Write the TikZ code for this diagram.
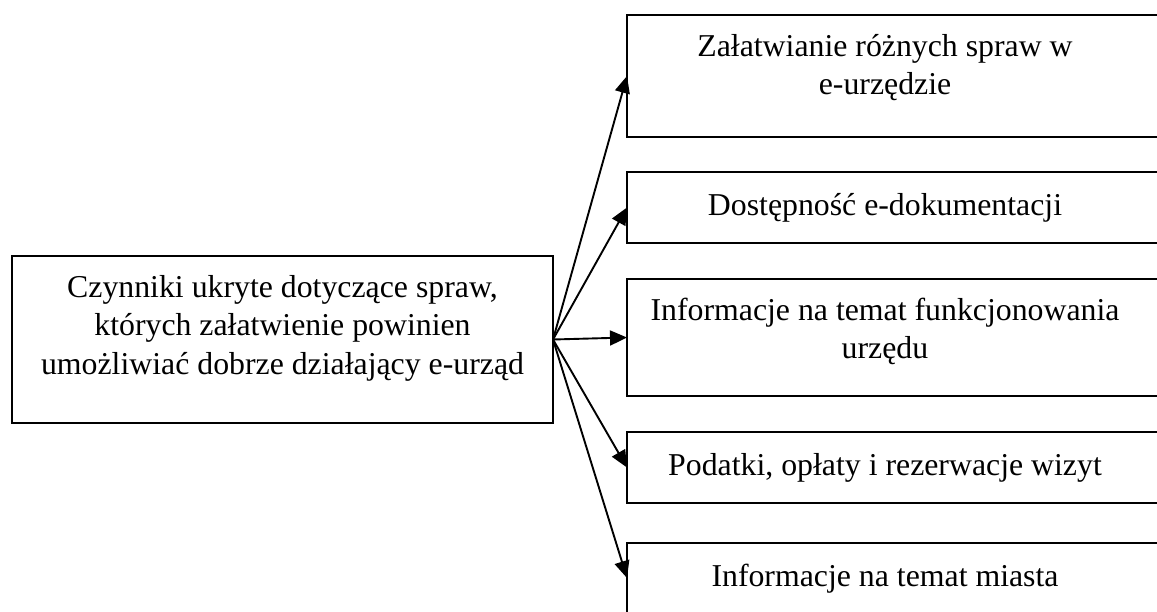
\documentclass[tikz,border=0pt]{standalone}
\usepackage{fontspec}
\setmainfont{Liberation Serif}
\usetikzlibrary{arrows.meta}
\newcommand\topstrut{\rule{0pt}{28pt}}
\begin{document}
\begin{tikzpicture}[x=1pt,y=-1pt,
  box/.style={draw,line width=1.9pt,rectangle,inner sep=0pt,outer sep=0pt,anchor=north west},
  txt/.style={inner sep=0pt,anchor=north,align=center,font=\fontsize{31.8pt}{38.5pt}\selectfont},
  arr/.style={line width=1.9pt,-{Triangle[length=17pt,width=15pt]}}]
\useasboundingbox (0,0) rectangle (1157,611);
\clip (0,0) rectangle (1157,611);
\node[box,minimum width=541pt,minimum height=167pt] (L) at (12,256) {};
\node[box,minimum width=545pt,minimum height=122pt] (R1) at (627,15) {};
\node[box,minimum width=545pt,minimum height=71pt] (R2) at (627,172) {};
\node[box,minimum width=545pt,minimum height=117pt] (R3) at (627,279) {};
\node[box,minimum width=545pt,minimum height=71pt] (R4) at (627,432) {};
\node[box,minimum width=545pt,minimum height=70pt] (R5) at (627,543) {};
\node[txt] (TL) at (282.5,269) {\topstrut Czynniki ukryte dotyczące spraw,\\których załatwienie powinien\\umożliwiać dobrze działający e-urząd};
\node[txt] (T1) at (885,28) {\topstrut Załatwianie różnych spraw w\\e-urzędzie};
\node[txt] (T2) at (885,187) {\topstrut Dostępność e-dokumentacji};
\node[txt] (T3) at (885,292) {\topstrut Informacje na temat funkcjonowania\\urzędu};
\node[txt] (T4) at (885,447) {\topstrut Podatki, opłaty i rezerwacje wizyt};
\node[txt] (T5) at (885,558) {\topstrut Informacje na temat miasta};
\draw[arr] (L.east) -- (R1.west);
\draw[arr] (L.east) -- (R2.west);
\draw[arr] (L.east) -- (R3.west);
\draw[arr] (L.east) -- (R4.west);
\draw[arr] (L.east) -- (R5.west);
\end{tikzpicture}
\end{document}
